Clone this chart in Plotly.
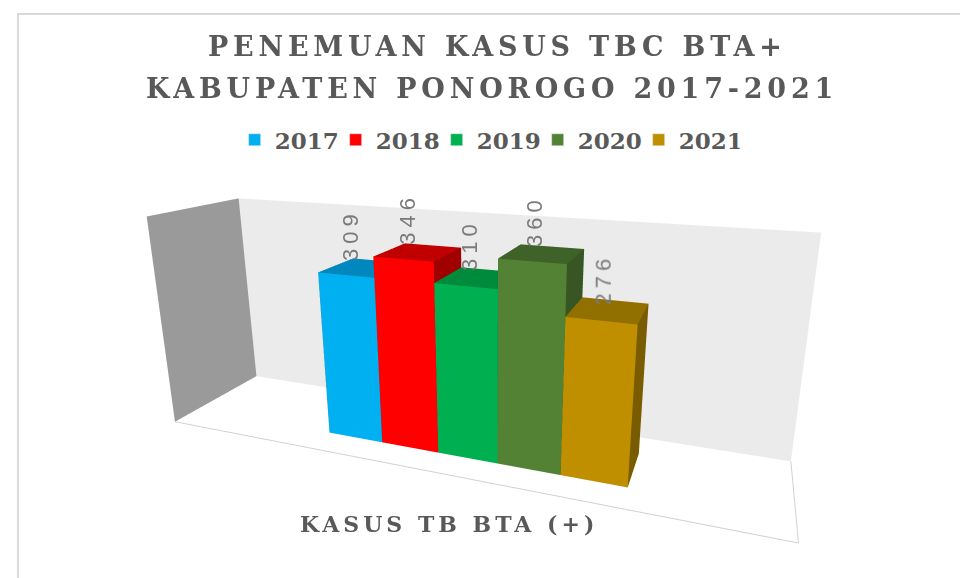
import plotly.graph_objects as go

years = ["2017", "2018", "2019", "2020", "2021"]
cases = [309, 346, 310, 360, 276]
front_colors = ["#00B0F0", "#FF0000", "#00B050", "#548235", "#BF8F00"]
top_colors = ["#0088BE", "#C00000", "#008A3C", "#3F6229", "#917000"]
side_colors = ["#006E9A", "#A00000", "#007030", "#375623", "#7A5C00"]
chart_title = ["PENEMUAN KASUS TBC BTA+", "KABUPATEN PONOROGO 2017-2021"]
category_label = "KASUS TB BTA (+)"

X_START, BAR_W = 2.75, 1.0
Y0, Y1 = 0.26, 0.74

fig = go.Figure()

def box(x0, x1, y0, y1, z0, z1):
    xs = [x0, x1, x1, x0, x0, x1, x1, x0]
    ys = [y0, y0, y1, y1, y0, y0, y1, y1]
    zs = [z0, z0, z0, z0, z1, z1, z1, z1]
    tri = [(0, 1, 2), (0, 2, 3), (4, 5, 6), (4, 6, 7), (0, 1, 5), (0, 5, 4),
           (3, 2, 6), (3, 6, 7), (0, 3, 7), (0, 7, 4), (1, 2, 6), (1, 6, 5)]
    return xs, ys, zs, [t[0] for t in tri], [t[1] for t in tri], [t[2] for t in tri]

for k, (yr, v) in enumerate(zip(years, cases)):
    x0 = X_START + k * BAR_W
    xs, ys, zs, i, j, kk = box(x0, x0 + BAR_W, Y0, Y1, 0, v)
    fc = [front_colors[k]] * 2 + [top_colors[k]] * 2 + [front_colors[k]] * 2 + [side_colors[k]] * 6
    fig.add_trace(go.Mesh3d(x=xs, y=ys, z=zs, i=i, j=j, k=kk, facecolor=fc,
                            flatshading=True, showlegend=False, legendgroup=yr,
                            lighting=dict(ambient=1, diffuse=0, specular=0, fresnel=0, roughness=1),
                            hoverinfo="skip", name=yr))
    fig.add_trace(go.Bar(x=[None], y=[None], name=yr, marker_color=front_colors[k],
                         legendgroup=yr, showlegend=True, xaxis="x", yaxis="y"))

label_anns = []
for k, v in enumerate(cases):
    label_anns.append(dict(x=X_START + k * BAR_W + BAR_W / 2, y=Y0 + 0.15 * (Y1 - Y0), z=v,
                           text='<span style="letter-spacing:5px">%d</span>' % v,
                           textangle=-90, showarrow=False, xanchor="center", yanchor="bottom",
                           yshift=10, font=dict(family="Liberation Sans", size=22, color="#7A7A7A")))

ax_common = dict(showgrid=False, zeroline=False, showticklabels=False, ticks="",
                 showspikes=False, title=dict(text=""), showbackground=True)

fig.update_layout(
    width=968, height=578,
    margin=dict(l=0, r=0, t=0, b=0),
    paper_bgcolor="white", plot_bgcolor="rgba(0,0,0,0)",
    showlegend=True,
    xaxis=dict(visible=False, domain=[0, 0.01]),
    yaxis=dict(visible=False, domain=[0, 0.01]),
    legend=dict(orientation="h", x=0.495, xanchor="center", y=0.772, yanchor="middle",
                font=dict(family="DejaVu Serif", size=23, color="#595959", weight="bold"),
                entrywidth=56, entrywidthmode="pixels", itemclick=False),
    scene=dict(
        domain=dict(x=[0, 1], y=[0, 1]),
        xaxis=dict(range=[0, 10], backgroundcolor="#9A9A9A", showline=True,
                   linecolor="#D0D0D0", linewidth=2, **ax_common),
        yaxis=dict(range=[0, 1], backgroundcolor="#EBEBEB", showline=True,
                   linecolor="#D0D0D0", linewidth=2, **ax_common),
        zaxis=dict(range=[0, 400], backgroundcolor="#FFFFFF", showline=False, **ax_common),
        aspectmode="manual", aspectratio=dict(x=3.2, y=0.7, z=1.15),
        camera=dict(eye=dict(x=1.27, y=-3.07, z=1.165), center=dict(x=0.15, y=0, z=0.225),
                    projection=dict(type="perspective")),
        annotations=label_anns,
    ),
    annotations=[
        dict(xref="paper", yref="paper", x=0.506, y=0.933, showarrow=False, yanchor="middle",
             text='<span style="letter-spacing:4.8px">%s</span>' % chart_title[0],
             font=dict(family="DejaVu Serif", size=27, color="#595959", weight="bold")),
        dict(xref="paper", yref="paper", x=0.500, y=0.8599, showarrow=False, yanchor="middle",
             text='<span style="letter-spacing:4.8px">%s</span>' % chart_title[1],
             font=dict(family="DejaVu Serif", size=27, color="#595959", weight="bold")),
        dict(xref="paper", yref="paper", x=0.456, y=0.107, showarrow=False, yanchor="middle",
             text='<span style="letter-spacing:4px">%s</span>' % category_label,
             font=dict(family="DejaVu Serif", size=22, color="#595959", weight="bold")),
    ],
    shapes=[dict(type="rect", xref="paper", yref="paper", x0=0.0103, y0=-0.02, x1=1.02, y1=0.9896,
                 line=dict(color="#D9D9D9", width=2), fillcolor="rgba(0,0,0,0)", layer="below")],
)

fig.write_html("out.html")
